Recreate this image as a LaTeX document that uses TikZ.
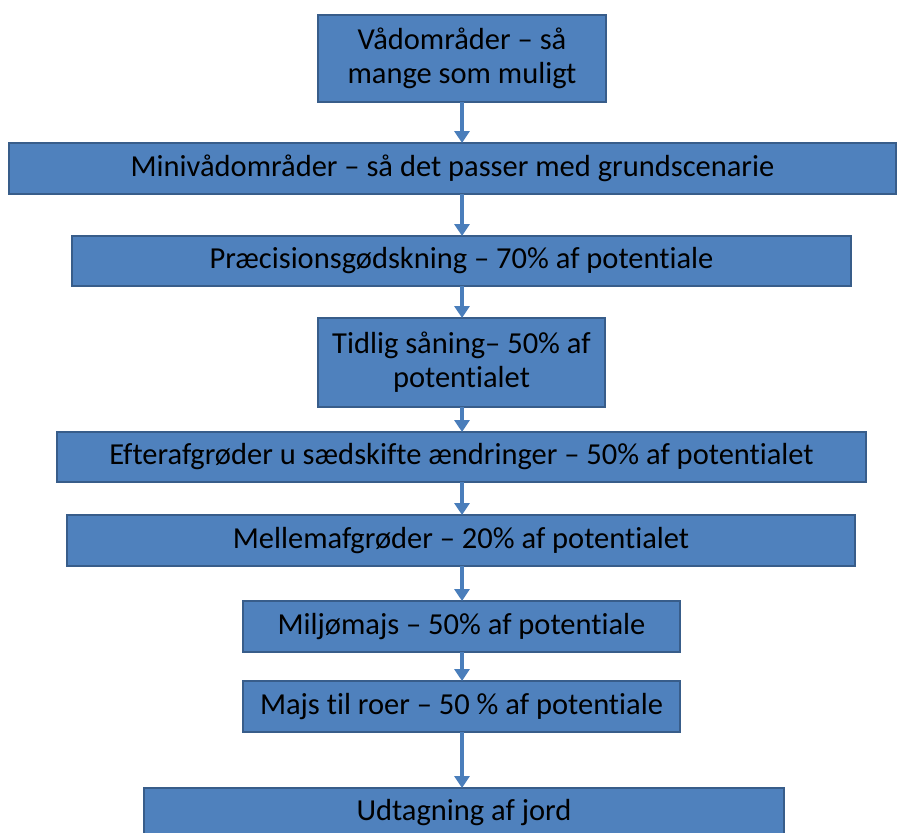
\documentclass[tikz,border=0pt]{standalone}
\usepackage{fontspec}
\setmainfont[Ligatures=NoCommon]{Carlito}
\usetikzlibrary{arrows.meta}
\definecolor{boxfill}{HTML}{4F81BD}
\definecolor{boxline}{HTML}{385D8A}
\definecolor{arrowc}{HTML}{4A7EBB}
\begin{document}
\begin{tikzpicture}[x=1pt,y=-1pt,
  box/.style={draw=boxline, line width=2pt, fill=boxfill, inner sep=0pt, outer sep=0pt,
    font=\fontsize{30.5}{34}\selectfont, align=center, text=black},
  conn/.style={draw=arrowc, line width=3.5pt, -{Triangle[width=15pt,length=12pt]}}]
\useasboundingbox (0,0) rectangle (904,832);
\clip (0,0) rectangle (904,832);
\fill[white] (0,0) rectangle (904,832);
\node[box, minimum width=288, minimum height=87] (b1) at (462,58.5) {Vådområder – så\\mange som muligt};
\node[box, minimum width=887, minimum height=51] (b2) at (452.5,168.5) {Minivådområder – så det passer med grundscenarie};
\node[box, minimum width=779, minimum height=50] (b3) at (461.5,261) {Præcisionsgødskning – 70\% af potentiale};
\node[box, minimum width=287, minimum height=89] (b4) at (461.5,362.5) {Tidlig såning– 50\% af\\potentialet};
\node[box, minimum width=809, minimum height=50] (b5) at (461.5,457) {Efterafgrøder u sædskifte ændringer – 50\% af potentialet};
\node[box, minimum width=788, minimum height=51] (b6) at (461,540.5) {Mellemafgrøder – 20\% af potentialet};
\node[box, minimum width=437, minimum height=51] (b7) at (461.5,626.5) {Miljømajs – 50\% af potentiale};
\node[box, minimum width=437, minimum height=51] (b8) at (461.5,706.5) {Majs til roer – 50 \% af potentiale};
\node[box, minimum width=640, minimum height=50] (b9) at (464,813) {Udtagning af jord};
\draw[conn] (b1.south -| 462,0) -- (b2.north -| 462,0);
\draw[conn] (b2.south -| 462,0) -- (b3.north -| 462,0);
\draw[conn] (b3.south -| 462,0) -- (b4.north -| 462,0);
\draw[conn] (b4.south -| 462,0) -- (b5.north -| 462,0);
\draw[conn] (b5.south -| 462,0) -- (b6.north -| 462,0);
\draw[conn] (b6.south -| 462,0) -- (b7.north -| 462,0);
\draw[conn] (b7.south -| 462,0) -- (b8.north -| 462,0);
\draw[conn] (b8.south -| 462,0) -- (b9.north -| 462,0);
\end{tikzpicture}
\end{document}
